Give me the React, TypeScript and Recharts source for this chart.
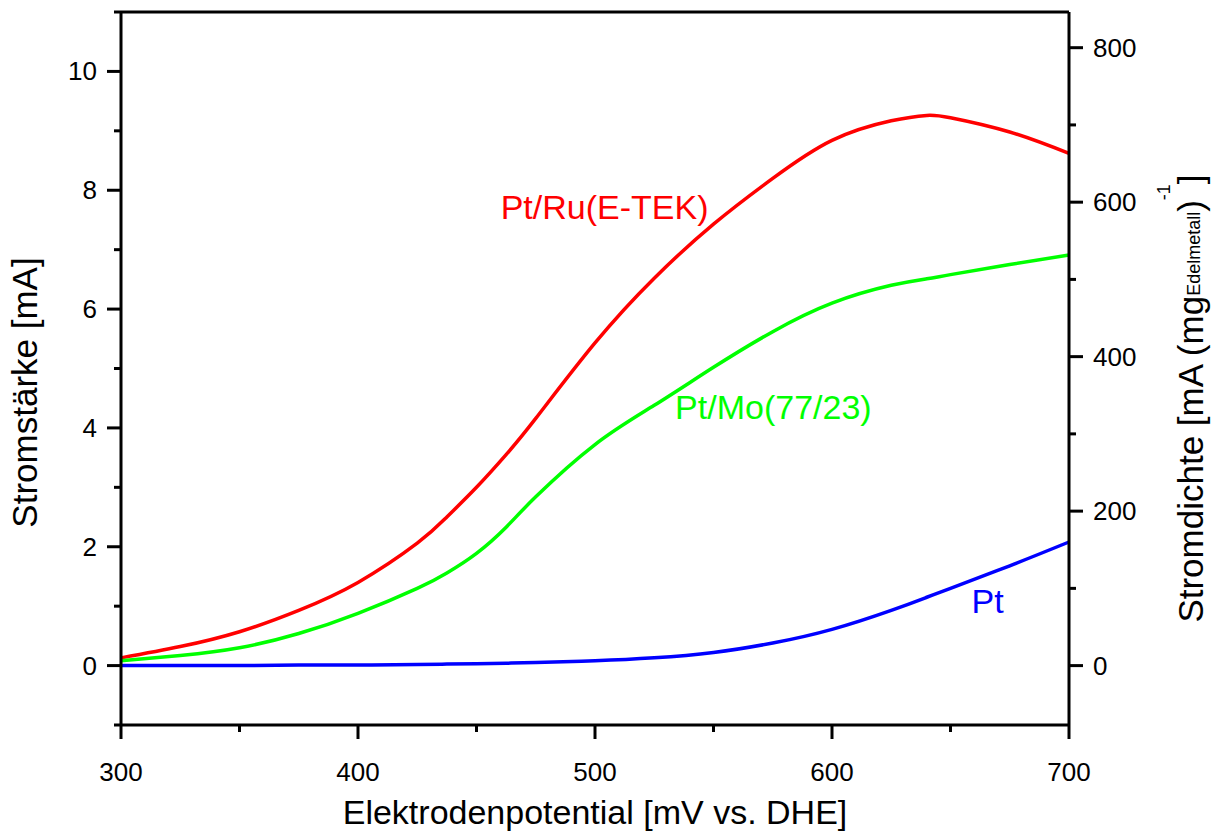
import { LineChart, Line, XAxis, YAxis, ReferenceLine, ReferenceDot } from 'recharts';

const FONT = '"Liberation Sans", Arial, sans-serif';

// Elektrodenpotential [mV vs. DHE]
const potential = [300, 325, 350, 375, 400, 425, 437.5, 450, 462.5, 475, 500, 525, 550, 575, 600, 625, 640, 650, 675, 700];
// Stromstärke [mA]
const ptRu = [0.13, 0.32, 0.57, 0.93, 1.4, 2.06, 2.5, 3.0, 3.55, 4.16, 5.43, 6.52, 7.43, 8.2, 8.84, 9.17, 9.26, 9.22, 8.98, 8.62];
const ptMo = [0.08, 0.17, 0.3, 0.54, 0.88, 1.3, 1.56, 1.89, 2.33, 2.84, 3.72, 4.38, 5.02, 5.62, 6.1, 6.4, 6.51, 6.58, 6.75, 6.91];
const pt = [0, 0, 0, 0.01, 0.01, 0.02, 0.025, 0.03, 0.04, 0.05, 0.08, 0.13, 0.22, 0.38, 0.61, 0.93, 1.15, 1.3, 1.68, 2.08];

const xTicks = [300, 350, 400, 450, 500, 550, 600, 650, 700];
const leftTicks = [-1, 0, 1, 2, 3, 4, 5, 6, 7, 8, 9, 10, 11];
const rightTicks = [0, 100, 200, 300, 400, 500, 600, 700, 800];

const data = potential.map((p, i) => ({ potential: p, ptRu: ptRu[i], ptMo: ptMo[i], pt: pt[i] }));

const XTick = ({ x, y, payload }: any) => {
  const major = payload.value % 100 === 0;
  return (
    <g>
      <line x1={x} x2={x} y1={y} y2={y + (major ? 14 : 7)} stroke="#000" strokeWidth={3} />
      {major && (
        <text x={x} y={y + 56} textAnchor="middle" fontSize={26} fontFamily={FONT} fill="#000">
          {payload.value}
        </text>
      )}
    </g>
  );
};

const LeftTick = ({ x, y, payload }: any) => {
  const major = payload.value % 2 === 0;
  return (
    <g>
      <line x1={x} x2={x - (major ? 14 : 7)} y1={y} y2={y} stroke="#000" strokeWidth={3} />
      {major && (
        <text x={x - 24} y={y + 9} textAnchor="end" fontSize={26} fontFamily={FONT} fill="#000">
          {payload.value}
        </text>
      )}
    </g>
  );
};

const RightTick = ({ x, y, payload }: any) => {
  const major = payload.value % 200 === 0;
  return (
    <g>
      <line x1={x} x2={x + (major ? 14 : 7)} y1={y} y2={y} stroke="#000" strokeWidth={3} />
      {major && (
        <text x={x + 24} y={y + 9} textAnchor="start" fontSize={26} fontFamily={FONT} fill="#000">
          {payload.value}
        </text>
      )}
    </g>
  );
};

const XTitle = ({ viewBox }: any) => (
  <text x={viewBox.x + viewBox.width / 2} y={viewBox.y + 99} textAnchor="middle" fontSize={34} fontFamily={FONT} fill="#000">
    Elektrodenpotential [mV vs. DHE]
  </text>
);

const LeftTitle = ({ viewBox }: any) => {
  const x = viewBox.x + 37;
  const y = viewBox.y + viewBox.height / 2 + 24;
  return (
    <text x={x} y={y} transform={`rotate(-90, ${x}, ${y})`} textAnchor="middle" fontSize={35} fontFamily={FONT} fill="#000">
      Stromstärke [mA]
    </text>
  );
};

const RightTitle = ({ viewBox }: any) => {
  const x = viewBox.x + 134;
  const y = viewBox.y + viewBox.height / 2 + 30;
  return (
    <text x={x} y={y} transform={`rotate(-90, ${x}, ${y})`} textAnchor="middle" fontSize={35} fontFamily={FONT} fill="#000">
      Stromdichte [mA (mg
      <tspan fontSize={18} dy={-3}>Edelmetall</tspan>
      <tspan dy={3}>)</tspan>
      <tspan fontSize={18} dy={-33}>-1</tspan>
      <tspan dy={33}>]</tspan>
    </text>
  );
};

const curveLabel = (text: string, color: string) => ({ viewBox }: any) => (
  <text x={viewBox.x} y={viewBox.y} textAnchor="start" fontSize={34} fontFamily={FONT} fill={color}>
    {text}
  </text>
);

export default function App() {
  return (
    <div style={{ position: 'absolute', left: 0, top: 0, width: 1211, height: 832, overflow: 'hidden', background: '#fff', fontFamily: FONT }}>
      <LineChart width={1211} height={832} data={data} margin={{ top: 12, right: 0, bottom: 0, left: 0 }}>
        <XAxis
          dataKey="potential"
          type="number"
          domain={[300, 700]}
          ticks={xTicks}
          interval={0}
          height={107}
          tickSize={0}
          tickMargin={0}
          tickLine={false}
          axisLine={{ stroke: '#000', strokeWidth: 3 }}
          tick={<XTick />}
          label={<XTitle />}
        />
        <YAxis
          yAxisId="left"
          type="number"
          domain={[-1, 11]}
          ticks={leftTicks}
          interval={0}
          width={121}
          tickSize={0}
          tickMargin={0}
          tickLine={false}
          axisLine={{ stroke: '#000', strokeWidth: 3 }}
          tick={<LeftTick />}
          label={<LeftTitle />}
        />
        <YAxis
          yAxisId="right"
          orientation="right"
          type="number"
          domain={[-76.9, 846.2]}
          allowDataOverflow
          ticks={rightTicks}
          interval={0}
          width={142}
          tickSize={0}
          tickMargin={0}
          tickLine={false}
          axisLine={{ stroke: '#000', strokeWidth: 3 }}
          tick={<RightTick />}
          label={<RightTitle />}
        />
        <ReferenceLine yAxisId="left" y={11} stroke="#000" strokeWidth={3} />
        <Line yAxisId="left" type="natural" dataKey="ptRu" stroke="#ff0000" strokeWidth={3.5} dot={false} isAnimationActive={false} />
        <Line yAxisId="left" type="natural" dataKey="ptMo" stroke="#00ff00" strokeWidth={3.5} dot={false} isAnimationActive={false} />
        <Line yAxisId="left" type="natural" dataKey="pt" stroke="#0000ff" strokeWidth={3.5} dot={false} isAnimationActive={false} />
        <ReferenceDot yAxisId="left" x={460.2} y={7.52} r={0} stroke="none" label={curveLabel('Pt/Ru(E-TEK)', '#ff0000')} />
        <ReferenceDot yAxisId="left" x={533.8} y={4.15} r={0} stroke="none" label={curveLabel('Pt/Mo(77/23)', '#00ff00')} />
        <ReferenceDot yAxisId="left" x={658.9} y={0.88} r={0} stroke="none" label={curveLabel('Pt', '#0000ff')} />
      </LineChart>
    </div>
  );
}
